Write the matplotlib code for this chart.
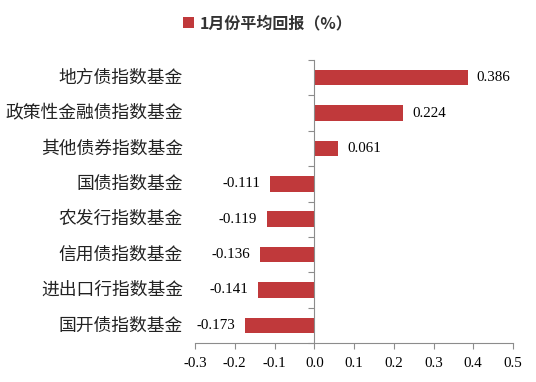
"""
1月份平均回报 horizontal bar chart
"""
import matplotlib
matplotlib.use('Agg')
import matplotlib.pyplot as plt

plt.rcParams['font.family'] = ['Noto Sans CJK SC', 'DejaVu Sans']

categories = ['地方债指数基金', '政策性金融债指数基金', '其他债券指数基金', '国债指数基金',
              '农发行指数基金', '信用债指数基金', '进出口行指数基金', '国开债指数基金']
returns = [0.386, 0.224, 0.061, -0.111, -0.119, -0.136, -0.141, -0.173]
xticks = [-0.3, -0.2, -0.1, 0.0, 0.1, 0.2, 0.3, 0.4, 0.5]
series_name = '1月份平均回报（%）'

bar_color = '#C0393B'
axis_color = '#8C8C8C'
num_font = 'Liberation Serif'

fig = plt.figure(figsize=(5.36, 3.82), dpi=100)
ax = fig.add_axes([195 / 536, 1 - 343 / 382, 318 / 536, 283 / 382])

ypos = list(range(len(categories)))
ax.barh(ypos, returns, height=0.44, color=bar_color, label=series_name)
ax.set_ylim(len(categories) - 0.5, -0.5)
ax.set_xlim(-0.3, 0.5)

# spines
for s in ['top', 'right']:
    ax.spines[s].set_visible(False)
ax.spines['left'].set_position(('data', 0))
ax.spines['left'].set_color(axis_color)
ax.spines['bottom'].set_color(axis_color)

# y ticks at category boundaries, on the zero line
ax.set_yticks([i - 0.5 for i in range(len(categories) + 1)])
ax.set_yticklabels([])
ax.tick_params(axis='y', length=4, color=axis_color, direction='out')

ax.set_xticks(xticks)
ax.set_xticklabels([f'{t:.1f}' for t in xticks], fontfamily=num_font, fontsize=10.8)
ax.tick_params(axis='x', length=4, color=axis_color, pad=6)

# category labels at the far left
for y, name in zip(ypos, categories):
    ax.annotate(name, xy=(0, y), xycoords=('axes fraction', 'data'),
                xytext=(-12, 0), textcoords='offset pixels',
                ha='right', va='center', fontsize=12.8, color='#222222')

# value labels
for y, v in zip(ypos, returns):
    if v >= 0:
        ax.annotate(f'{v:.3f}', xy=(v, y), xytext=(9, 0), textcoords='offset pixels',
                    ha='left', va='center', fontfamily=num_font, fontsize=10.8)
    else:
        ax.annotate(f'{v:.3f}', xy=(v, y), xytext=(-10, 0), textcoords='offset pixels',
                    ha='right', va='center', fontfamily=num_font, fontsize=10.8)

leg = fig.legend(loc='center', bbox_to_anchor=(0.5, 1 - 23 / 382), frameon=False,
                 handlelength=0.65, handleheight=0.65, handletextpad=0.4,
                 prop={'size': 11.5, 'weight': 'bold'})
for t in leg.get_texts():
    t.set_color('#333333')

fig.savefig('out.png', dpi=100, facecolor='white')
